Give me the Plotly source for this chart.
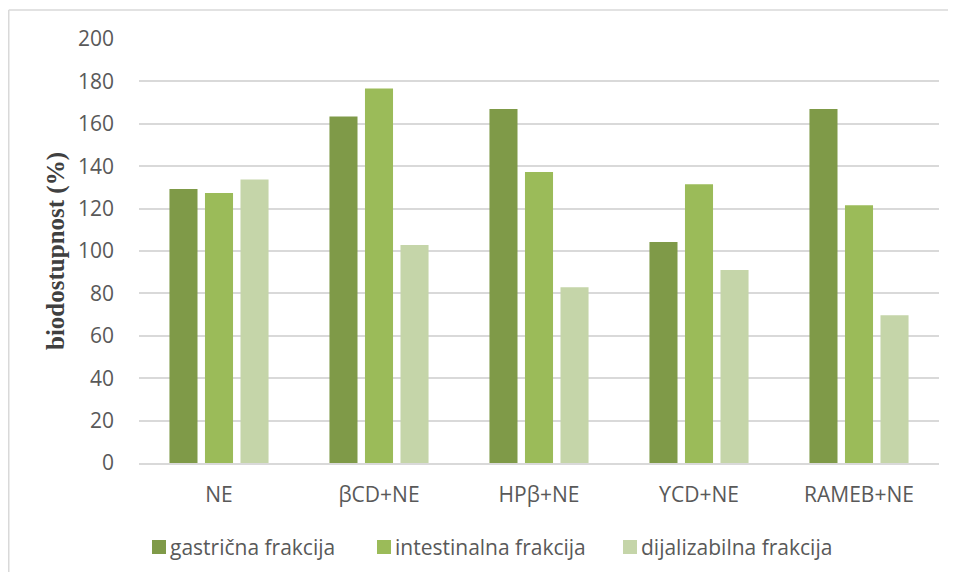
import plotly.graph_objects as go

CATEGORIES = ['NE', 'βCD+NE', 'HPβ+NE', 'ϒCD+NE', 'RAMEB+NE']
GASTRIC = [129.2, 163.4, 167.0, 104.2, 167.0]
INTESTINAL = [127.4, 176.7, 137.3, 131.5, 121.6]
DIALYZABLE = [133.7, 102.8, 82.9, 91.0, 69.7]
SERIES_NAMES = ['gastrična frakcija', 'intestinalna frakcija', 'dijalizabilna frakcija']
COLORS = ['#7F9A48', '#9BBB59', '#C5D5A9']
Y_TICKS = [0, 20, 40, 60, 80, 100, 120, 140, 160, 180, 200]

# the page body adds an 8px margin, so the figure is 16px smaller than the window
W, H = 940, 564
L, R, T, B = 131, 9, 31, 109
PW, PH = W - L - R, H - T - B

# legend entry positions in figure px (layout only)
LEGEND_X = [144, 369, 615]
LEGEND_Y = 539

TEXT_FONT = dict(family='Open Sans', size=21, color='#595959')


def px_to_paper(x, y):
    return (x - L) / PW, (H - B - y) / PH


fig = go.Figure()
for name, values, color in zip(SERIES_NAMES, [GASTRIC, INTESTINAL, DIALYZABLE], COLORS):
    fig.add_trace(go.Bar(
        x=CATEGORIES,
        y=values,
        name=name,
        marker=dict(color=color, line=dict(width=0)),
        showlegend=False,
    ))

# chart border: only top and left edges are visible in the original
bx0, by1 = px_to_paper(0.75, 2)
border = dict(color='#D9D9D9', width=1.5)
shapes = [
    dict(type='line', xref='paper', yref='paper', x0=bx0, x1=1.2, y0=by1, y1=by1, line=border),
    dict(type='line', xref='paper', yref='paper', x0=bx0, x1=bx0, y0=-0.5, y1=by1, line=border),
]
annotations = []
for name, color, lx in zip(SERIES_NAMES, COLORS, LEGEND_X):
    x0, y0 = px_to_paper(lx, LEGEND_Y + 7)
    x1, y1 = px_to_paper(lx + 14, LEGEND_Y - 7)
    shapes.append(dict(type='rect', xref='paper', yref='paper',
                       x0=x0, x1=x1, y0=y0, y1=y1,
                       fillcolor=color, line=dict(width=0)))
    tx, ty = px_to_paper(lx + 16, LEGEND_Y)
    annotations.append(dict(text=name, xref='paper', yref='paper', x=tx, y=ty,
                            xanchor='left', yanchor='middle', showarrow=False,
                            font=TEXT_FONT))

fig.update_layout(
    width=W,
    height=H,
    barmode='group',
    bargap=0.334,
    bargroupgap=0.21,
    plot_bgcolor='white',
    paper_bgcolor='white',
    margin=dict(l=L, r=R, t=T, b=B, autoexpand=False),
    font=TEXT_FONT,
    showlegend=False,
    xaxis=dict(
        automargin=False,
        showgrid=False,
        showline=True,
        linecolor='#D9D9D9',
        linewidth=1.5,
        ticks='',
        tickfont=TEXT_FONT,
        ticklabelstandoff=12,
    ),
    yaxis=dict(
        automargin=False,
        range=[0, 200],
        tickvals=Y_TICKS,
        showgrid=True,
        gridcolor='#D9D9D9',
        gridwidth=1.5,
        zeroline=False,
        showline=False,
        ticks='',
        tickfont=TEXT_FONT,
        ticklabelstandoff=24,
        title=dict(
            text='<b>biodostupnost (%)</b>',
            font=dict(family='Liberation Serif', size=25, color='#404040'),
            standoff=6,
        ),
    ),
    shapes=shapes,
    annotations=annotations,
)

fig.write_html('out.html')
